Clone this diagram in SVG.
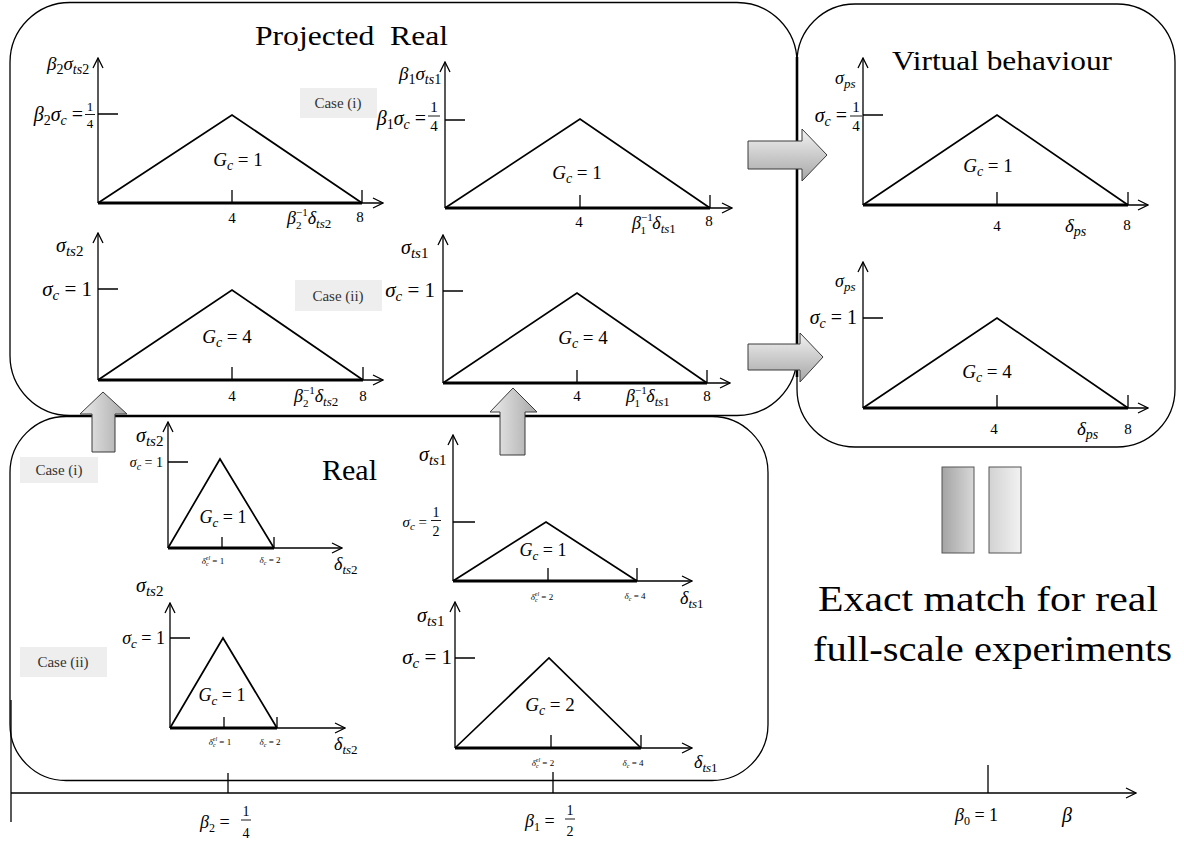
<svg xmlns="http://www.w3.org/2000/svg" width="1184" height="843" viewBox="0 0 1184 843">
<style>
.box{fill:none;stroke:#000;stroke-width:1.3}
.ax{fill:none;stroke:#000;stroke-width:1.3}
.tri{fill:none;stroke:#000;stroke-width:1.7}
.base{stroke:#000;stroke-width:3}
.tk{fill:none;stroke:#000;stroke-width:1.3}
.fl{stroke:#000;stroke-width:0.9}
text{font-family:"Liberation Serif",serif;fill:#000}
.m{font-style:italic}
.n{font-style:normal}
.case{fill:#eeeeee}
.ct{font-size:15px;fill:#333;text-anchor:middle}
.mid{text-anchor:middle}
.end{text-anchor:end}
.blk{stroke:#3a3a3a;stroke-width:1}
</style>
<defs>
<marker id="ah" viewBox="0 0 12 12" refX="11" refY="6" markerWidth="12" markerHeight="12" markerUnits="userSpaceOnUse" orient="auto"><path d="M1,1 L11,6 L1,11" fill="none" stroke="#000" stroke-width="1.3"/></marker>
<linearGradient id="gUp" x1="0" y1="0" x2="1" y2="0"><stop offset="0" stop-color="#ececec"/><stop offset="1" stop-color="#a8a8a8"/></linearGradient>
<linearGradient id="gRight" x1="0" y1="0" x2="0" y2="1"><stop offset="0" stop-color="#f2f2f2"/><stop offset="1" stop-color="#a6a6a6"/></linearGradient>
<linearGradient id="gBarL" x1="0" y1="0" x2="1" y2="0"><stop offset="0" stop-color="#a4a4a4"/><stop offset="1" stop-color="#d8d8d8"/></linearGradient>
<linearGradient id="gBarR" x1="0" y1="0" x2="1" y2="0"><stop offset="0" stop-color="#d2d2d2"/><stop offset="1" stop-color="#f2f2f2"/></linearGradient>
</defs>

<!-- Projected Real -->
<g id="projected-real">
<rect class="box" x="10" y="2.5" width="787" height="413" rx="60"/>
<text x="255" y="45" font-size="27" textLength="193" lengthAdjust="spacingAndGlyphs">Projected&#160; Real</text>

<g id="case-i-proj"><rect class="case" x="300" y="88" width="77" height="30"/><text class="ct" x="338" y="108">Case (i)</text></g>
<g id="case-ii-proj"><rect class="case" x="295" y="280" width="87" height="31"/><text class="ct" x="338" y="301">Case (ii)</text></g>

<g id="plot-proj-b2-i">
<line class="ax" x1="98" y1="203" x2="98" y2="58" marker-end="url(#ah)"/>
<line class="ax" x1="98" y1="203" x2="383" y2="203" marker-end="url(#ah)"/>
<line class="base" x1="98" y1="203" x2="362" y2="203"/>
<polyline class="tri" points="98,203 232,115 362,203"/>
<path class="tk" d="M98,114H118M232,190V203M362,190V203"/>
<text class="m" x="47" y="70" font-size="19">β<tspan class="n" font-size="14" dy="4">2</tspan><tspan dy="-4">σ</tspan><tspan font-size="14" dy="4">ts</tspan><tspan class="n" font-size="14">2</tspan></text>
<text class="m end" x="83" y="121" font-size="20">β<tspan class="n" font-size="14" dy="4">2</tspan><tspan dy="-4">σ</tspan><tspan font-size="14" dy="4">c</tspan><tspan class="n" dy="-4"> =</tspan></text>
<text class="n mid" x="90" y="111" font-size="13">1</text><line class="fl" x1="85" y1="114.5" x2="95" y2="114.5"/><text class="n mid" x="90" y="128" font-size="13">4</text>
<text class="m mid" x="238" y="166" font-size="19">G<tspan font-size="14" dy="4">c</tspan><tspan class="n" dy="-4"> = 1</tspan></text>
<text class="n mid" x="232" y="223" font-size="15">4</text>
<text class="m" x="287" y="224" font-size="18">β<tspan class="n" font-size="11" dy="-8">−1</tspan><tspan class="n" font-size="11" dx="-11.7" dy="13">2</tspan><tspan dx="6.2" dy="-5">δ</tspan><tspan font-size="13" dy="4">ts</tspan><tspan class="n" font-size="13">2</tspan></text>
<text class="n mid" x="360" y="222" font-size="15">8</text>
</g>

<g id="plot-proj-b1-i">
<line class="ax" x1="445" y1="208" x2="445" y2="62" marker-end="url(#ah)"/>
<line class="ax" x1="445" y1="208" x2="732" y2="208" marker-end="url(#ah)"/>
<line class="base" x1="445" y1="208" x2="710" y2="208"/>
<polyline class="tri" points="445,208 580,119 710,208"/>
<path class="tk" d="M445,120H465M580,195V208M710,195V208"/>
<text class="m" x="399" y="80" font-size="19">β<tspan class="n" font-size="14" dy="4">1</tspan><tspan dy="-4">σ</tspan><tspan font-size="14" dy="4">ts</tspan><tspan class="n" font-size="14">1</tspan></text>
<text class="m end" x="426" y="125" font-size="20">β<tspan class="n" font-size="14" dy="4">1</tspan><tspan dy="-4">σ</tspan><tspan font-size="14" dy="4">c</tspan><tspan class="n" dy="-4"> =</tspan></text>
<text class="n mid" x="434" y="112" font-size="15">1</text><line class="fl" x1="428" y1="116" x2="440" y2="116"/><text class="n mid" x="434" y="131" font-size="15">4</text>
<text class="m mid" x="577" y="179" font-size="19">G<tspan font-size="14" dy="4">c</tspan><tspan class="n" dy="-4"> = 1</tspan></text>
<text class="n mid" x="579" y="227" font-size="15">4</text>
<text class="m" x="632" y="229" font-size="18">β<tspan class="n" font-size="11" dy="-8">−1</tspan><tspan class="n" font-size="11" dx="-11.7" dy="13">1</tspan><tspan dx="6.2" dy="-5">δ</tspan><tspan font-size="13" dy="4">ts</tspan><tspan class="n" font-size="13">1</tspan></text>
<text class="n mid" x="709" y="226" font-size="15">8</text>
</g>

<g id="plot-proj-b2-ii">
<line class="ax" x1="98" y1="380" x2="98" y2="233" marker-end="url(#ah)"/>
<line class="ax" x1="98" y1="380" x2="383" y2="380" marker-end="url(#ah)"/>
<line class="base" x1="98" y1="380" x2="363" y2="380"/>
<polyline class="tri" points="98,380 232,290 363,380"/>
<path class="tk" d="M98,289H118M232,367V380M363,367V380"/>
<text class="m" x="56" y="252" font-size="20">σ<tspan font-size="15" dy="4">ts</tspan><tspan class="n" font-size="15">2</tspan></text>
<text class="m end" x="92" y="296" font-size="21">σ<tspan font-size="15" dy="4">c</tspan><tspan class="n" dy="-4"> = 1</tspan></text>
<text class="m mid" x="227" y="343" font-size="19">G<tspan font-size="14" dy="4">c</tspan><tspan class="n" dy="-4"> = 4</tspan></text>
<text class="n mid" x="232" y="401" font-size="15">4</text>
<text class="m" x="294" y="402" font-size="18">β<tspan class="n" font-size="11" dy="-8">−1</tspan><tspan class="n" font-size="11" dx="-11.7" dy="13">2</tspan><tspan dx="6.2" dy="-5">δ</tspan><tspan font-size="13" dy="4">ts</tspan><tspan class="n" font-size="13">2</tspan></text>
<text class="n mid" x="363" y="401" font-size="15">8</text>
</g>

<g id="plot-proj-b1-ii">
<line class="ax" x1="443" y1="383" x2="443" y2="235" marker-end="url(#ah)"/>
<line class="ax" x1="443" y1="383" x2="730" y2="383" marker-end="url(#ah)"/>
<line class="base" x1="443" y1="383" x2="707" y2="383"/>
<polyline class="tri" points="443,383 577,293 707,383"/>
<path class="tk" d="M443,291H463M577,370V383M707,370V383"/>
<text class="m" x="401" y="254" font-size="20">σ<tspan font-size="15" dy="4">ts</tspan><tspan class="n" font-size="15">1</tspan></text>
<text class="m end" x="435" y="297" font-size="21">σ<tspan font-size="15" dy="4">c</tspan><tspan class="n" dy="-4"> = 1</tspan></text>
<text class="m mid" x="583" y="344" font-size="19">G<tspan font-size="14" dy="4">c</tspan><tspan class="n" dy="-4"> = 4</tspan></text>
<text class="n mid" x="577" y="401" font-size="15">4</text>
<text class="m" x="626" y="402" font-size="18">β<tspan class="n" font-size="11" dy="-8">−1</tspan><tspan class="n" font-size="11" dx="-11.7" dy="13">1</tspan><tspan dx="6.2" dy="-5">δ</tspan><tspan font-size="13" dy="4">ts</tspan><tspan class="n" font-size="13">1</tspan></text>
<text class="n mid" x="707" y="401" font-size="15">8</text>
</g>
</g>

<!-- Virtual behaviour -->
<g id="virtual-behaviour">
<rect class="box" x="797" y="4" width="378" height="443" rx="58"/>
<line x1="797" y1="57" x2="797" y2="377" stroke="#000" stroke-width="2.6"/>
<text x="892" y="70" font-size="27" textLength="220" lengthAdjust="spacingAndGlyphs">Virtual behaviour</text>

<g id="plot-virtual-i">
<line class="ax" x1="863" y1="205" x2="863" y2="58" marker-end="url(#ah)"/>
<line class="ax" x1="863" y1="205" x2="1148" y2="205" marker-end="url(#ah)"/>
<line class="base" x1="863" y1="205" x2="1128" y2="205"/>
<polyline class="tri" points="863,205 997,115 1128,205"/>
<path class="tk" d="M863,115H883M997,192V205M1128,192V205"/>
<text class="m" x="835" y="84" font-size="18">σ<tspan font-size="13" dy="4">ps</tspan></text>
<text class="m end" x="847" y="122" font-size="20">σ<tspan font-size="14" dy="4">c</tspan><tspan class="n" dy="-4"> =</tspan></text>
<text class="n mid" x="856" y="112" font-size="15">1</text><line class="fl" x1="850" y1="116" x2="862" y2="116"/><text class="n mid" x="856" y="131" font-size="15">4</text>
<text class="m mid" x="988" y="172" font-size="19">G<tspan font-size="14" dy="4">c</tspan><tspan class="n" dy="-4"> = 1</tspan></text>
<text class="n mid" x="997" y="231" font-size="15">4</text>
<text class="m" x="1065" y="232" font-size="19">δ<tspan font-size="14" dy="4">ps</tspan></text>
<text class="n mid" x="1127" y="230" font-size="15">8</text>
</g>

<g id="plot-virtual-ii">
<line class="ax" x1="863" y1="408" x2="863" y2="262" marker-end="url(#ah)"/>
<line class="ax" x1="863" y1="408" x2="1148" y2="408" marker-end="url(#ah)"/>
<line class="base" x1="863" y1="408" x2="1128" y2="408"/>
<polyline class="tri" points="863,408 997,318 1128,408"/>
<path class="tk" d="M863,318H883M997,395V408M1128,395V408"/>
<text class="m" x="835" y="287" font-size="18">σ<tspan font-size="13" dy="4">ps</tspan></text>
<text class="m end" x="857" y="324" font-size="20">σ<tspan font-size="14" dy="4">c</tspan><tspan class="n" dy="-4"> = 1</tspan></text>
<text class="m mid" x="987" y="378" font-size="19">G<tspan font-size="14" dy="4">c</tspan><tspan class="n" dy="-4"> = 4</tspan></text>
<text class="n mid" x="994" y="434" font-size="15">4</text>
<text class="m" x="1077" y="435" font-size="19">δ<tspan font-size="14" dy="4">ps</tspan></text>
<text class="n mid" x="1128" y="434" font-size="15">8</text>
</g>
</g>

<!-- Real -->
<g id="real">
<rect class="box" x="10" y="416.5" width="758" height="364" rx="56"/>
<line class="ax" x1="11" y1="700" x2="11" y2="822"/>
<text x="322" y="480" font-size="30" textLength="55" lengthAdjust="spacingAndGlyphs">Real</text>

<g id="case-i-real"><rect class="case" x="20" y="457" width="78" height="26"/><text class="ct" x="59" y="475">Case (i)</text></g>
<g id="case-ii-real"><rect class="case" x="20" y="647" width="87" height="30"/><text class="ct" x="63" y="667">Case (ii)</text></g>

<g id="plot-real-b2-i">
<line class="ax" x1="168" y1="548" x2="168" y2="422" marker-end="url(#ah)"/>
<line class="ax" x1="168" y1="548" x2="342" y2="548" marker-end="url(#ah)"/>
<line class="base" x1="168" y1="548" x2="274" y2="548"/>
<polyline class="tri" points="168,548 220,459 274,548"/>
<path class="tk" d="M168,462H188M222,537V548M274,537V548"/>
<text class="m" x="136" y="442" font-size="20">σ<tspan font-size="15" dy="4">ts</tspan><tspan class="n" font-size="15">2</tspan></text>
<text class="m end" x="163" y="467" font-size="14">σ<tspan font-size="10" dy="3">c</tspan><tspan class="n" dy="-3"> = 1</tspan></text>
<text class="m mid" x="223" y="523" font-size="18">G<tspan font-size="13" dy="4">c</tspan><tspan class="n" dy="-4"> = 1</tspan></text>
<text class="m mid" x="213" y="564" font-size="9">δ<tspan font-size="6" dy="2">c</tspan><tspan font-size="6" dx="-3" dy="-6">el</tspan><tspan class="n" dy="4"> = 1</tspan></text>
<text class="m mid" x="270" y="563" font-size="9">δ<tspan font-size="6" dy="2">c</tspan><tspan class="n" dy="-2"> = 2</tspan></text>
<text class="m" x="334" y="570" font-size="18">δ<tspan font-size="13" dy="4">ts</tspan><tspan class="n" font-size="13">2</tspan></text>
</g>

<g id="plot-real-b1-i">
<line class="ax" x1="453" y1="581" x2="453" y2="435" marker-end="url(#ah)"/>
<line class="ax" x1="453" y1="581" x2="692" y2="581" marker-end="url(#ah)"/>
<line class="base" x1="453" y1="581" x2="637" y2="581"/>
<polyline class="tri" points="453,581 546,522 637,581"/>
<path class="tk" d="M453,522H475M548,568V581M637,568V581"/>
<text class="m" x="419" y="461" font-size="20">σ<tspan font-size="15" dy="4">ts</tspan><tspan class="n" font-size="15">1</tspan></text>
<text class="m end" x="427" y="527" font-size="15">σ<tspan font-size="11" dy="3">c</tspan><tspan class="n" dy="-3"> =</tspan></text>
<text class="n mid" x="436" y="517" font-size="14">1</text><line class="fl" x1="431" y1="520.5" x2="441" y2="520.5"/><text class="n mid" x="436" y="536" font-size="14">2</text>
<text class="m mid" x="543" y="556" font-size="18">G<tspan font-size="13" dy="4">c</tspan><tspan class="n" dy="-4"> = 1</tspan></text>
<text class="m mid" x="542" y="600" font-size="9">δ<tspan font-size="6" dy="2">c</tspan><tspan font-size="6" dx="-3" dy="-6">el</tspan><tspan class="n" dy="4"> = 2</tspan></text>
<text class="m mid" x="635" y="599" font-size="9">δ<tspan font-size="6" dy="2">c</tspan><tspan class="n" dy="-2"> = 4</tspan></text>
<text class="m" x="680" y="604" font-size="18">δ<tspan font-size="13" dy="4">ts</tspan><tspan class="n" font-size="13">1</tspan></text>
</g>

<g id="plot-real-b2-ii">
<line class="ax" x1="170" y1="728" x2="170" y2="603" marker-end="url(#ah)"/>
<line class="ax" x1="170" y1="728" x2="345" y2="728" marker-end="url(#ah)"/>
<line class="base" x1="170" y1="728" x2="277" y2="728"/>
<polyline class="tri" points="170,728 223,638 277,728"/>
<path class="tk" d="M170,638H190M224,717V728M277,717V728"/>
<text class="m" x="136" y="592" font-size="20">σ<tspan font-size="15" dy="4">ts</tspan><tspan class="n" font-size="15">2</tspan></text>
<text class="m end" x="165" y="644" font-size="18">σ<tspan font-size="13" dy="4">c</tspan><tspan class="n" dy="-4"> = 1</tspan></text>
<text class="m mid" x="222" y="701" font-size="18">G<tspan font-size="13" dy="4">c</tspan><tspan class="n" dy="-4"> = 1</tspan></text>
<text class="m mid" x="220" y="745" font-size="9">δ<tspan font-size="6" dy="2">c</tspan><tspan font-size="6" dx="-3" dy="-6">el</tspan><tspan class="n" dy="4"> = 1</tspan></text>
<text class="m mid" x="270" y="745" font-size="9">δ<tspan font-size="6" dy="2">c</tspan><tspan class="n" dy="-2"> = 2</tspan></text>
<text class="m" x="334" y="750" font-size="18">δ<tspan font-size="13" dy="4">ts</tspan><tspan class="n" font-size="13">2</tspan></text>
</g>

<g id="plot-real-b1-ii">
<line class="ax" x1="455" y1="748" x2="455" y2="602" marker-end="url(#ah)"/>
<line class="ax" x1="455" y1="748" x2="692" y2="748" marker-end="url(#ah)"/>
<line class="base" x1="455" y1="748" x2="641" y2="748"/>
<polyline class="tri" points="455,748 549,658 641,748"/>
<path class="tk" d="M455,658H475M551,735V748M641,735V748"/>
<text class="m" x="417" y="622" font-size="20">σ<tspan font-size="15" dy="4">ts</tspan><tspan class="n" font-size="15">1</tspan></text>
<text class="m end" x="452" y="664" font-size="21">σ<tspan font-size="15" dy="4">c</tspan><tspan class="n" dy="-4"> = 1</tspan></text>
<text class="m mid" x="550" y="711" font-size="19">G<tspan font-size="14" dy="4">c</tspan><tspan class="n" dy="-4"> = 2</tspan></text>
<text class="m mid" x="543" y="766" font-size="9">δ<tspan font-size="6" dy="2">c</tspan><tspan font-size="6" dx="-3" dy="-6">el</tspan><tspan class="n" dy="4"> = 2</tspan></text>
<text class="m mid" x="633" y="766" font-size="9">δ<tspan font-size="6" dy="2">c</tspan><tspan class="n" dy="-2"> = 4</tspan></text>
<text class="m" x="694" y="768" font-size="18">δ<tspan font-size="13" dy="4">ts</tspan><tspan class="n" font-size="13">1</tspan></text>
</g>
</g>

<!-- beta axis -->
<g id="beta-axis">
<line class="ax" x1="11" y1="793" x2="1136" y2="793" marker-end="url(#ah)"/>
<path class="tk" d="M228,773V793M553,772V793M988,765V793"/>
<text class="m" x="200" y="828" font-size="18">β<tspan class="n" font-size="12" dy="4">2</tspan><tspan class="n" dy="-4"> =</tspan></text>
<text class="n mid" x="246" y="816" font-size="14">1</text><line class="fl" x1="241" y1="820" x2="251" y2="820"/><text class="n mid" x="246" y="838" font-size="14">4</text>
<text class="m" x="525" y="827" font-size="18">β<tspan class="n" font-size="12" dy="4">1</tspan><tspan class="n" dy="-4"> =</tspan></text>
<text class="n mid" x="570" y="815" font-size="14">1</text><line class="fl" x1="565" y1="819" x2="575" y2="819"/><text class="n mid" x="570" y="836" font-size="14">2</text>
<text class="m" x="955" y="821" font-size="18">β<tspan class="n" font-size="12" dy="4">0</tspan><tspan class="n" dy="-4"> = 1</tspan></text>
<text class="m" x="1062" y="822" font-size="20">β</text>
</g>

<!-- exact match -->
<g id="exact-match">
<rect x="942" y="467" width="32" height="86" fill="url(#gBarL)" stroke="#555" stroke-width="1"/>
<rect x="989" y="467" width="32" height="86" fill="url(#gBarR)" stroke="#555" stroke-width="1"/>
<text x="818" y="611" font-size="35" textLength="340" lengthAdjust="spacingAndGlyphs">Exact match for real</text>
<text x="813" y="661" font-size="35" textLength="359" lengthAdjust="spacingAndGlyphs">full-scale experiments</text>
</g>

<!-- connectors -->
<g id="connectors">
<path class="blk" fill="url(#gRight)" d="M748,141 L802,141 L802,129 L827,155 L802,181 L802,169 L748,169 Z"/>
<path class="blk" fill="url(#gRight)" d="M748,344 L800,344 L800,333 L823,357 L800,382 L800,370 L748,370 Z"/>
<path class="blk" fill="url(#gUp)" d="M92,452 L92,414 L80,414 L103,392 L127,414 L115,414 L115,452 Z"/>
<path class="blk" fill="url(#gUp)" d="M500,455 L500,412 L490,412 L513,388 L537,412 L525,412 L525,455 Z"/>
</g>
</svg>
